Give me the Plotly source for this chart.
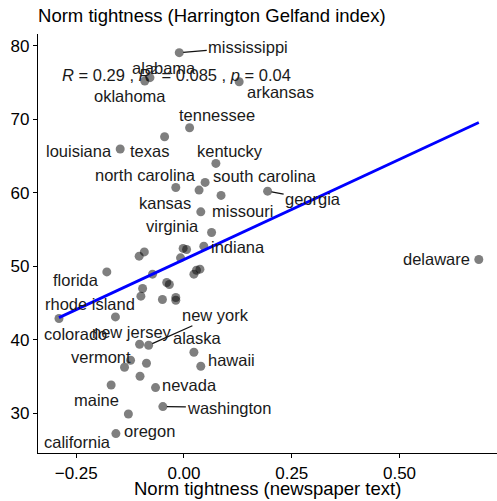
import numpy as np
import plotly.graph_objects as go

# State-level norm tightness: newspaper-text measure vs. Harrington-Gelfand index.
# Points without a printed name carry an empty label.
states = [
    "mississippi", "alabama", "oklahoma", "arkansas", "tennessee", "texas",
    "louisiana", "kentucky", "north carolina", "south carolina", "", "missouri",
    "georgia", "kansas", "virginia", "indiana", "", "", "", "", "", "florida",
    "", "", "", "", "", "", "", "", "", "", "", "colorado", "rhode island",
    "new jersey", "new york", "alaska", "vermont", "", "", "hawaii", "",
    "maine", "nevada", "washington", "oregon", "california", "delaware",
]
newspaper_tightness = [
    -0.011, -0.079, -0.091, 0.128, 0.013, -0.045,
    -0.148, 0.074, -0.019, 0.049, 0.035, 0.086,
    0.194, 0.039, 0.064, 0.046, -0.002, 0.006, -0.092, -0.104, -0.008, -0.179,
    0.037, 0.029, 0.023, -0.073, -0.040, -0.034, -0.096, -0.100, -0.050, -0.019, -0.019, -0.290, -0.159,
    -0.103, -0.082, 0.023, -0.124, -0.138, -0.087, 0.039, -0.102,
    -0.169, -0.066, -0.049, -0.129, -0.158, 0.684,
]
hg_index = [
    79.05, 75.65, 75.20, 75.10, 68.84, 67.62,
    65.95, 64.00, 60.73, 61.41, 60.37, 59.65,
    60.23, 57.41, 54.61, 52.75, 52.44, 52.30, 51.97, 51.39, 51.16, 49.25,
    49.62, 49.48, 48.94, 48.94, 47.81, 47.54, 47.00, 45.95, 45.50, 45.77, 45.40, 42.91, 43.13,
    39.41, 39.28, 38.33, 37.24, 36.28, 36.83, 36.42, 35.06,
    33.88, 33.52, 30.94, 29.93, 27.27, 50.94,
]
x_ticks = [-0.25, 0.0, 0.25, 0.50]
x_tick_labels = ["\u22120.25", "0.00", "0.25", "0.50"]
y_ticks = [30, 40, 50, 60, 70, 80]

FONT = "Liberation Sans, Arial, Helvetica, sans-serif"

x = np.array(newspaper_tightness)
y = np.array(hg_index)

# Linear fit and correlation statistics
slope, intercept = np.polyfit(x, y, 1)
r = np.corrcoef(x, y)[0, 1]
n = len(x)
t_stat = r * np.sqrt((n - 2) / (1 - r ** 2))


def t_pvalue(t, df):
    """Two-sided p-value of a Student t statistic by numeric integration."""
    from math import gamma, sqrt, pi
    grid = np.linspace(abs(t), abs(t) + 60, 200001)
    c = gamma((df + 1) / 2) / (sqrt(df * pi) * gamma(df / 2))
    dens = c * (1 + grid ** 2 / df) ** (-(df + 1) / 2)
    return 2 * np.trapezoid(dens, grid)


p_val = t_pvalue(t_stat, n - 2)

line_x = np.array([x.min(), x.max()])
line_y = intercept + slope * line_x

fig = go.Figure()
fig.add_trace(go.Scatter(
    x=x, y=y, mode="markers",
    marker=dict(size=9, color="rgba(0,0,0,0.5)", line=dict(width=0)),
    text=states, hoverinfo="text+x+y", showlegend=False,
))
fig.add_trace(go.Scatter(
    x=line_x, y=line_y, mode="lines",
    line=dict(color="#0000ff", width=2.8), hoverinfo="skip", showlegend=False,
))

# Text offsets (pixels) of each name from its point; some get a leader segment
label_offsets = {
    "mississippi": (69, -6), "alabama": (14, -10), "oklahoma": (-15, 15),
    "arkansas": (41.5, 10), "tennessee": (27, -12.7), "texas": (-14.7, 14),
    "louisiana": (-41.2, 1.7), "kentucky": (14, -12.6),
    "north carolina": (-29.9, -12.3), "south carolina": (59.5, -6.3),
    "georgia": (45.5, 8.3), "kansas": (-36.2, -8.4), "missouri": (21, 15.4),
    "virginia": (-38.9, -6.3), "indiana": (33.8, 1.3), "florida": (-30.9, 8.3),
    "rhode island": (-25.8, -12.7), "colorado": (17, 15.7),
    "new jersey": (-7.7, -12.3), "new york": (67.3, -30), "alaska": (3.5, -14.7),
    "vermont": (-29.5, -3.3), "hawaii": (31, -6), "nevada": (34.4, -3),
    "maine": (-14.5, 15.3), "washington": (66.5, 1), "oregon": (20.9, 17.3),
    "california": (-38.4, 8.4), "delaware": (-42.4, 0),
}
with_segment = {"mississippi", "georgia", "new york", "washington"}

annotations = []
for name, xv, yv in zip(states, newspaper_tightness, hg_index):
    if not name:
        continue
    dx, dy = label_offsets[name]
    seg = name in with_segment
    annotations.append(dict(
        x=xv, y=yv, xref="x", yref="y", text=name, showarrow=True,
        ax=dx, ay=dy, axref="pixel", ayref="pixel",
        arrowhead=0, arrowwidth=1.3, standoff=4,
        arrowcolor="#111111" if seg else "rgba(0,0,0,0)",
        font=dict(family=FONT, size=16.5, color="#1a1a1a"),
    ))

stat_text = (f"<i>R</i> = {r:.2f} , <i>R</i><sup>2</sup> = {r**2:.3f} , "
             f"<i>p</i> = {p_val:.2f}")
annotations.append(dict(
    x=-0.2877, y=76.2, xref="x", yref="y", text=stat_text, showarrow=False,
    xanchor="left", yanchor="middle",
    font=dict(family=FONT, size=16.5, color="#1a1a1a"),
))

# x-axis title, centred under the panel
annotations.append(dict(
    x=0.5, y=-0.0855, xref="paper", yref="paper",
    text="Norm tightness (newspaper text)", showarrow=False,
    xanchor="center", yanchor="middle",
    font=dict(family=FONT, size=18.5, color="black"),
))

axis_common = dict(
    showgrid=False, zeroline=False, showline=True, linecolor="black",
    linewidth=1.3, ticks="outside", ticklen=4, tickwidth=1.2, tickcolor="black",
    tickfont=dict(family=FONT, size=17, color="black"),
)

fig.update_layout(
    width=497, height=501,
    margin=dict(l=38, r=0, t=34, b=48),
    paper_bgcolor="white", plot_bgcolor="white",
    title=dict(text="Norm tightness (Harrington Gelfand index)",
               x=0.0765, xanchor="left", y=1 - 16 / 501, yanchor="middle",
               font=dict(family=FONT, size=18.5, color="black")),
    xaxis=dict(range=[-0.3387, 0.7262], tickvals=x_ticks, ticktext=x_tick_labels,
               **axis_common),
    yaxis=dict(range=[24.63, 81.59], tickvals=y_ticks, **axis_common),
    annotations=annotations,
    font=dict(family=FONT),
)

fig.write_html("out.html")
